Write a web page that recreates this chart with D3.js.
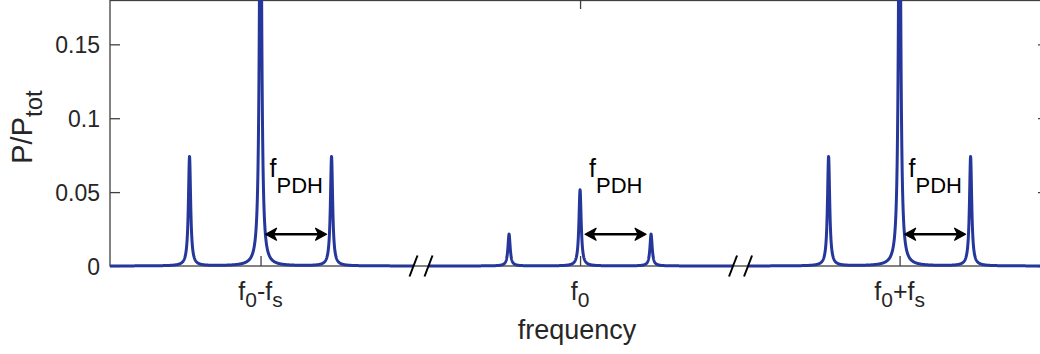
<!DOCTYPE html>
<html>
<head>
<meta charset="utf-8">
<script src="https://cdn.jsdelivr.net/npm/d3@7"></script>
<style>
  html, body { margin: 0; padding: 0; background: #fff; }
  svg { display: block; font-family: "Liberation Sans", Arial, Helvetica, sans-serif; }
</style>
</head>
<body>
<svg id="chart" width="1040" height="354"></svg>
<script>
// ---- data (display frequency units; axis is broken between groups) ----
const xDomain = [-6.62, 6.59];
const yDomain = [0, 0.18];
const yTicks = [0, 0.05, 0.1, 0.15];
const yTickLabels = ["0", "0.05", "0.1", "0.15"];
const xTickPositions = [-4.5, 0, 4.5];
// alternating normal / subscript parts
const xTickLabels = [
  ["f", "0", "-f", "s"],
  ["f", "0"],
  ["f", "0", "+f", "s"]
];
const peakPositions = [-5.5, -4.5, -3.5, -1, 0, 1, 3.5, 4.5, 5.5];
const peakHeights   = [0.074, 0.30, 0.074, 0.0215, 0.0515, 0.0215, 0.074, 0.30, 0.074];
const peakHalfWidth = 0.019;
const breakPositions = [-2.24, 2.26];
const arrowFrom = [-4.5, 0, 4.5];
const arrowTo   = [-3.5, 1, 5.5];
const arrowLevel = 0.0215;
const annotationText = ["f", "PDH"];
const xLabel = "frequency";
const yLabel = ["P/P", "tot"];

(function () {
// ---- layout ----
const svg = d3.select("#chart");
const mLeft = 110, mRight = 1048, mTop = 0, mBottom = 266;
const x = d3.scaleLinear().domain(xDomain).range([mLeft, mRight]);
const y = d3.scaleLinear().domain(yDomain).range([mBottom, mTop]);
const axisColor = "#404040";
const lineColor = "#26379b";
const font = "'Liberation Sans', Arial, sans-serif";

svg.append("defs").append("clipPath").attr("id", "plotclip")
  .append("rect").attr("x", mLeft).attr("y", mTop).attr("width", mRight - mLeft).attr("height", mBottom - mTop + 4);

// axes box
svg.append("rect").attr("x", mLeft).attr("y", mTop + 0.5).attr("width", mRight - mLeft).attr("height", mBottom - mTop - 0.5)
  .attr("fill", "none").attr("stroke", axisColor).attr("stroke-width", 1.3);

// y ticks (inward on left and right)
const yAxisL = d3.axisLeft(y).tickValues(yTicks).tickSize(-10).tickFormat((d, i) => yTickLabels[i]).tickPadding(10);
const gy = svg.append("g").attr("transform", `translate(${mLeft},0)`).call(yAxisL);
gy.attr("font-family", font).attr("font-size", 23);
gy.select(".domain").remove();
gy.selectAll("line").attr("stroke", axisColor).attr("stroke-width", 1.3);
gy.selectAll("text").attr("fill", "#262626").attr("dy", "0.36em");
const yAxisR = d3.axisRight(y).tickValues(yTicks).tickSize(-10).tickFormat("");
const gyr = svg.append("g").attr("transform", `translate(${mRight},0)`).call(yAxisR);
gyr.select(".domain").remove();
gyr.selectAll("line").attr("stroke", axisColor).attr("stroke-width", 1.3);

// x ticks (inward bottom and top)
const xAxisB = d3.axisBottom(x).tickValues(xTickPositions).tickSize(-10).tickFormat("");
const gxb = svg.append("g").attr("transform", `translate(0,${mBottom})`).call(xAxisB);
gxb.select(".domain").remove();
gxb.selectAll("line").attr("stroke", axisColor).attr("stroke-width", 1.3);
const xAxisT = d3.axisTop(x).tickValues(xTickPositions).tickSize(-9).tickFormat("");
const gxt = svg.append("g").attr("transform", `translate(0,${mTop})`).call(xAxisT);
gxt.select(".domain").remove();
gxt.selectAll("line").attr("stroke", axisColor).attr("stroke-width", 1.3);

// x tick labels with subscripts
xTickPositions.forEach((p, i) => {
  const t = svg.append("text").attr("x", x(p)).attr("y", 300).attr("text-anchor", "middle")
    .attr("fill", "#262626").attr("font-size", 25);
  const parts = xTickLabels[i];
  let sub = false;
  parts.forEach((s, k) => {
    const sp = t.append("tspan").text(s);
    if (k % 2 === 1) { sp.attr("font-size", 21).attr("dy", 7); sub = true; }
    else if (sub) { sp.attr("dy", -7); sub = false; }
  });
});

// spectrum line
const samples = d3.range(xDomain[0], xDomain[1] + 1e-9, 0.002).concat(peakPositions).sort((a, b) => a - b);
const spectrum = v => d3.sum(peakPositions, (p, i) => peakHeights[i] / (1 + ((v - p) / peakHalfWidth) ** 2));
const gapHalf = x.invert(mLeft + 7.5) - x.invert(mLeft);
const segments = [];
let cur = [];
samples.forEach(v => {
  const inGap = breakPositions.some(b => Math.abs(v - b) < gapHalf);
  if (inGap) { if (cur.length) { segments.push(cur); cur = []; } }
  else cur.push([v, spectrum(v)]);
});
if (cur.length) segments.push(cur);
const line = d3.line().x(d => x(d[0])).y(d => y(d[1]));
svg.append("g").attr("clip-path", "url(#plotclip)").selectAll("path").data(segments).join("path")
  .attr("d", line).attr("fill", "none").attr("stroke", lineColor).attr("stroke-width", 3)
  .attr("stroke-linejoin", "round");

// break marks
breakPositions.forEach(b => {
  [-7.5, 7.5].forEach(o => {
    const cx = x(b) + o, cy = mBottom;
    svg.append("line").attr("x1", cx - 4).attr("y1", cy + 10.5).attr("x2", cx + 4).attr("y2", cy - 10.5)
      .attr("stroke", "#000").attr("stroke-width", 2);
  });
});

// arrows
const inset = 5;
arrowFrom.forEach((a, i) => {
  const x1 = x(a) + inset, x2 = x(arrowTo[i]) - inset, yy = y(arrowLevel);
  svg.append("line").attr("x1", x1 + 6).attr("x2", x2 - 6).attr("y1", yy).attr("y2", yy)
    .attr("stroke", "#000").attr("stroke-width", 2.5);
  [[x1, 1], [x2, -1]].forEach(([tx, dir]) => {
    svg.append("path")
      .attr("d", `M${tx},${yy} L${tx + dir * 11},${yy - 6} L${tx + dir * 8},${yy} L${tx + dir * 11},${yy + 6} Z`)
      .attr("fill", "#000").attr("stroke", "#000").attr("stroke-width", 1.2).attr("stroke-linejoin", "round");
  });
  // f_PDH label
  const t = svg.append("text").attr("x", x(a) + 9).attr("y", 177).attr("fill", "#000").attr("font-size", 25);
  t.append("tspan").text(annotationText[0]);
  t.append("tspan").text(annotationText[1]).attr("font-size", 22).attr("dy", 16);
});

// axis labels
svg.append("text").attr("x", (mLeft + mRight) / 2 - 2).attr("y", 339).attr("text-anchor", "middle")
  .attr("font-size", 27).attr("fill", "#262626").text(xLabel);
const yl = svg.append("text").attr("transform", `translate(32,127) rotate(-90)`).attr("text-anchor", "middle")
  .attr("font-size", 29).attr("fill", "#262626");
yl.append("tspan").text(yLabel[0]);
yl.append("tspan").text(yLabel[1]).attr("font-size", 24).attr("dy", 10);
})();
</script>
</body>
</html>
